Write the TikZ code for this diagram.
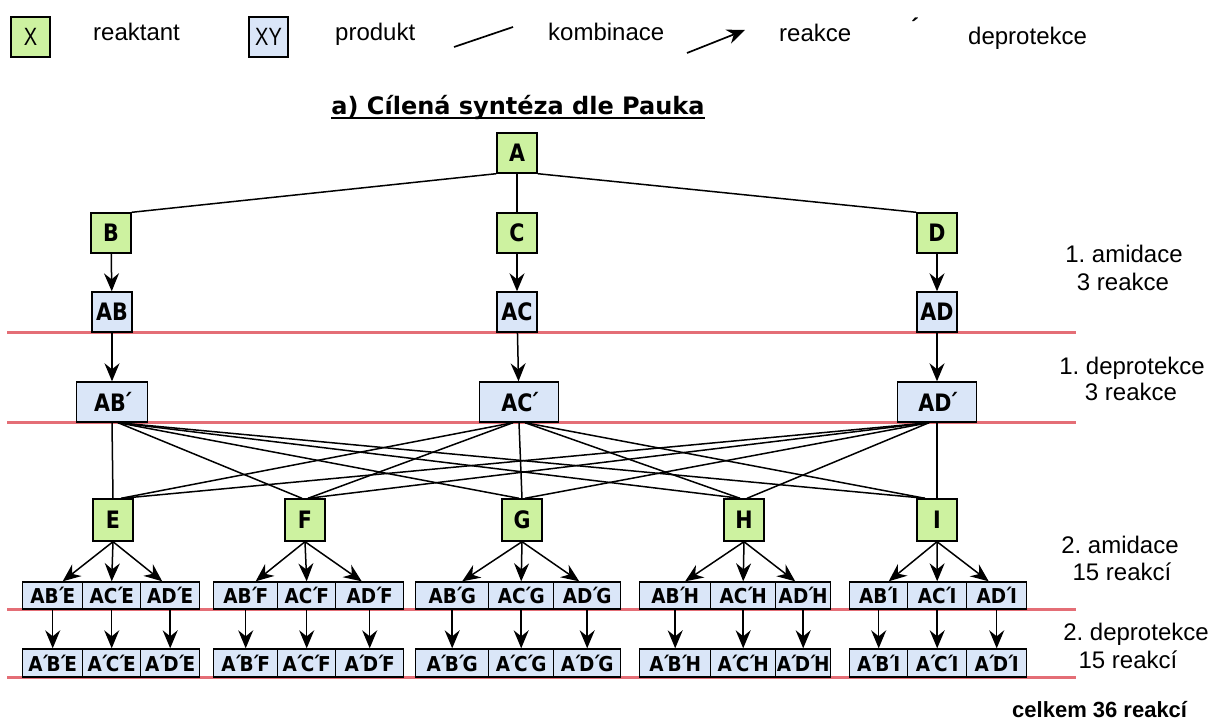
\documentclass[tikz,border=0pt]{standalone}
\usepackage{fontspec}
\setmainfont{Liberation Sans}
\newfontfamily\boxf[FakeStretch=0.86]{DejaVu Sans}
\newfontfamily\smf[FakeStretch=0.9]{DejaVu Sans}
\newfontfamily\titf{DejaVu Sans}
\newfontfamily\legf[FakeStretch=0.8]{Liberation Sans}
\usetikzlibrary{arrows.meta}
\definecolor{rgreen}{RGB}{205,242,160}
\definecolor{pblue}{RGB}{218,230,248}
\definecolor{sepred}{RGB}{228,110,118}
\newcommand\crossln[4]{\draw[conn] ([xshift=#3pt]#1.south) -- ([xshift=#4pt]#2.north);}
\newcommand\prm{\kern-0.14em´\kern-0.12em}
\begin{document}
\begin{tikzpicture}[x=1pt,y=-1pt,
  reac/.style={draw, line width=1.4pt, fill=rgreen, minimum width=40pt, minimum height=40pt, inner sep=0pt, font=\boxf\bfseries\fontsize{24}{28}\selectfont},
  prod/.style={reac, fill=pblue},
  small/.style={draw, line width=1.4pt, fill=pblue, minimum height=27pt, inner sep=0pt, font=\smf\bfseries\fontsize{20.5}{22}\selectfont},
  legbox/.style={draw, line width=1.4pt, minimum width=39pt, minimum height=40pt, inner sep=0pt, font=\legf\fontsize{25}{28}\selectfont},
  conn/.style={line width=1.5pt},
  arr/.style={line width=1.5pt, -{Stealth[length=18pt,width=15pt,inset=6pt]}},
  sep/.style={line width=3pt, sepred},
  lab/.style={font=\fontsize{24}{28}\selectfont\frenchspacing, anchor=base, inner sep=0pt}
]
\fill[white] (0,0) rectangle (1210,725);
\useasboundingbox (0,0) rectangle (1210,725);

% legend
\node[legbox, fill=rgreen] (lx) at (30.5,37) {X};
\node[lab, anchor=base west] (t1) at (93,41) {reaktant};
\node[legbox, fill=pblue] (lxy) at (268.5,37) {XY};
\node[lab, anchor=base west] (t2) at (335,41) {produkt};
\coordinate (k1) at (454,47); \coordinate (k2) at (513,27);
\draw[conn, line width=1.7pt] (k1) -- (k2);
\node[lab, anchor=base west] (t3) at (548,41) {kombinace};
\coordinate (r1) at (687,53); \coordinate (r2) at (745,30);
\draw[arr, line width=1.7pt] (r1) -- (r2);
\node[lab, anchor=base west] (t4) at (779,42) {reakce};
\node[lab, font=\bfseries\fontsize{24}{28}\selectfont] (pr) at (915,36) {´};
\node[lab, anchor=base west] (t5) at (968,45) {deprotekce};

% title
\node[anchor=base, inner sep=0pt, font=\titf\bfseries\fontsize{24}{28}\selectfont] (title) at (518,114) {a) Cílená syntéza dle Pauka};
\draw[line width=2pt] ([yshift=-3.5pt]title.base west) -- ([yshift=-3.5pt]title.base east);

% separators
\foreach \yy in {332,422,609.5,677.5} \draw[sep] (7,\yy) -- (1076,\yy);

% top tree
\node[reac] (A) at (517,153) {A};
\node[reac] (B) at (111,233) {B};
\node[reac] (C) at (517,233) {C};
\node[reac] (D) at (937,233) {D};
\node[prod] (AB) at (112,312) {AB};
\node[prod] (AC) at (517,312) {AC};
\node[prod] (AD) at (937,312) {AD};
\node[prod, minimum width=71pt] (ABp) at (112,402) {AB\prm};
\node[prod, minimum width=79pt] (ACp) at (519,402) {AC\prm};
\node[prod, minimum width=79pt] (ADp) at (937,402) {AD\prm};

\draw[conn] (A.south west) -- (B.north east);
\draw[conn] (A.south) -- (C.north);
\draw[conn] (A.south east) -- (D.north west);
\draw[arr] (B) -- (AB);
\draw[arr] (C) -- (AC);
\draw[arr] (D) -- (AD);
\draw[arr] (AB) -- (ABp);
\draw[arr] (AC) -- (ACp);
\draw[arr] (AD) -- (ADp);

% second reactants
\node[reac, minimum height=42pt] (E) at (113,520) {E};
\node[reac, minimum height=42pt] (F) at (305,520) {F};
\node[reac, minimum height=42pt] (G) at (522,520) {G};
\node[reac, minimum height=42pt] (H) at (744,520) {H};
\node[reac, minimum height=42pt] (I) at (937,520) {I};

\crossln{ABp}{E}{0}{0}
\crossln{ABp}{F}{6}{-3}
\crossln{ABp}{G}{6}{-3}
\crossln{ABp}{H}{6}{-4}
\crossln{ABp}{I}{6}{-12}
\crossln{ACp}{E}{-6}{8}
\crossln{ACp}{F}{-6}{3}
\crossln{ACp}{G}{0}{0}
\crossln{ACp}{H}{6}{-4}
\crossln{ACp}{I}{6}{-12}
\crossln{ADp}{E}{-8}{9}
\crossln{ADp}{F}{-8}{3}
\crossln{ADp}{G}{-8}{3}
\crossln{ADp}{H}{-8}{3}
\crossln{ADp}{I}{0}{0}

% product rows
\foreach \g/\x/\wa/\wb/\wc in {E/22/60/58/59, F/213/64/58/68, G/415/73/65/67, H/639/71/65/55, I/849/58/59/60} {
  \pgfmathsetmacro\xb{\x+\wa}
  \pgfmathsetmacro\xc{\x+\wa+\wb}
  \node[small, minimum width=\wa pt, anchor=west] (r3\g1) at (\x,595.5) {AB\prm\g};
  \node[small, minimum width=\wb pt, anchor=west] (r3\g2) at (\xb,595.5) {AC\prm\g};
  \node[small, minimum width=\wc pt, anchor=west] (r3\g3) at (\xc,595.5) {AD\prm\g};
  \node[small, minimum width=\wa pt, minimum height=28pt, anchor=west] (r4\g1) at (\x,663) {A\prm B\prm\g};
  \node[small, minimum width=\wb pt, minimum height=28pt, anchor=west] (r4\g2) at (\xb,663) {A\prm C\prm\g};
  \node[small, minimum width=\wc pt, minimum height=28pt, anchor=west] (r4\g3) at (\xc,663) {A\prm D\prm\g};
  \draw[arr] (\g.south) -- ([xshift=10pt]r3\g1.north);
  \draw[arr] (\g.south) -- (r3\g2.north);
  \draw[arr] (\g.south) -- ([xshift=-8pt]r3\g3.north);
  \draw[arr] (r3\g1.south) -- (r4\g1.north);
  \draw[arr] (r3\g2.south) -- (r4\g2.north);
  \draw[arr] (r3\g3.south) -- (r4\g3.north);
}

% right labels
\node[lab] (l1a) at (1124,262) {1. amidace};
\node[lab] (l1b) at (1123,290) {3 reakce};
\node[lab] (l2a) at (1132,374) {1. deprotekce};
\node[lab] (l2b) at (1131,400) {3 reakce};
\node[lab] (l3a) at (1120,553) {2. amidace};
\node[lab] (l3b) at (1122,580) {15 reakcí};
\node[lab] (l4a) at (1136,640) {2. deprotekce};
\node[lab] (l4b) at (1128,668) {15 reakcí};
\node[anchor=base west, inner sep=0pt, font=\bfseries\fontsize{22}{26}\selectfont] (tot) at (1012,717) {celkem 36 reakcí};
\end{tikzpicture}
\end{document}
